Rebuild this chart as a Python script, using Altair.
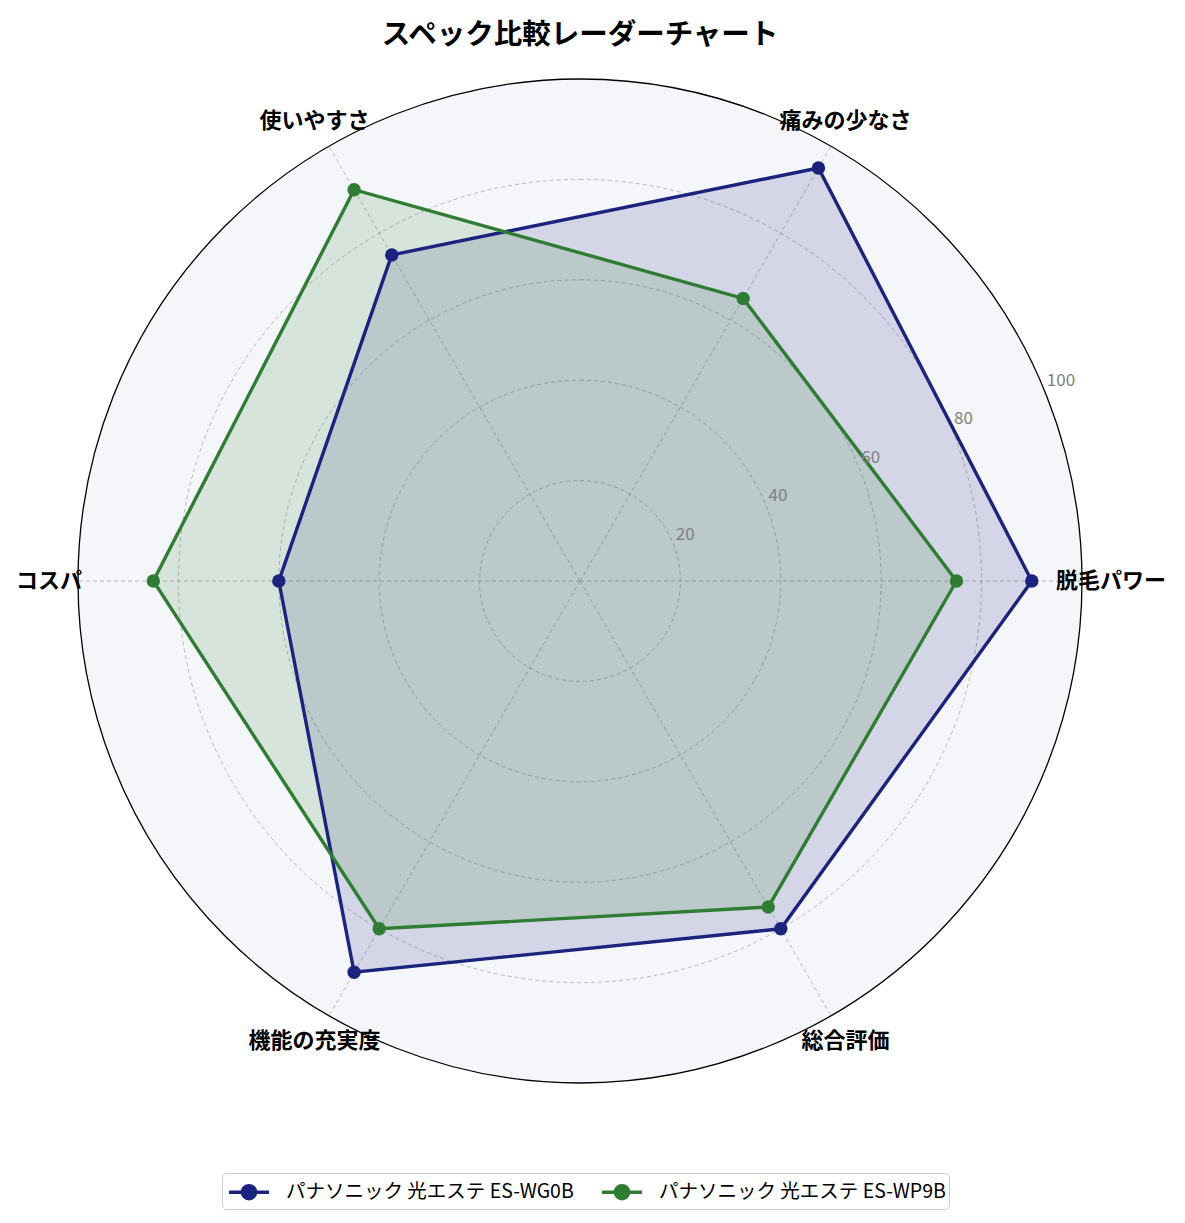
import math
import altair as alt
import pandas as pd

# ---------------- data ----------------
categories = ["脱毛パワー", "痛みの少なさ", "使いやすさ", "コスパ", "機能の充実度", "総合評価"]
series_names = ["パナソニック 光エステ ES-WG0B", "パナソニック 光エステ ES-WP9B"]
values_wg0b = [90, 95, 75, 60, 90, 80]
values_wp9b = [75, 65, 90, 85, 80, 75]
r_ticks = [20, 40, 60, 80, 100]
grid_levels = [20, 40, 60, 80]
colors = ["#1a237e", "#2e7d32"]
title_text = "スペック比較レーダーチャート"

N = len(categories)
R = 502  # pixel radius of value 100
FONT = "Noto Sans CJK JP"

rows = []
for s, vals in zip(series_names, [values_wg0b, values_wp9b]):
    for i, (c, v) in enumerate(zip(categories, vals)):
        rows.append({"series": s, "category": c, "idx": i, "value": v})
df = pd.DataFrame(rows)
cat_df = pd.DataFrame({"category": categories, "idx": list(range(N))})
tick_df = pd.DataFrame({"r": r_ticks})
grid_df = pd.DataFrame({"r": grid_levels})
outer_df = pd.DataFrame({"r": [100]})

xs = alt.Scale(domain=[-100, 100], nice=False, zero=False)
ys = alt.Scale(domain=[-100, 100], nice=False, zero=False)
rs = alt.Scale(type="linear", domain=[0, 100], range=[0, R], zero=True, nice=False)
ANG = f"datum.idx * 2 * PI / {N}"

legend = alt.Legend(
    orient="none", legendX=144, legendY=1094, direction="horizontal", title=None,
    labelFont=FONT, labelFontSize=19.5, labelColor="#000000", labelLimit=500,
    symbolType="M-1.43,0L1.43,0M0.47,0A0.47,0.47,0,1,1,-0.47,0A0.47,0.47,0,1,1,0.47,0Z",
    symbolSize=784, symbolStrokeWidth=3.5, symbolOffset=8, labelOffset=21, columnPadding=20,
    strokeColor="#cccccc", fillColor="#ffffff", padding=3, cornerRadius=4,
)
stroke_enc = alt.Stroke("series:N", scale=alt.Scale(domain=series_names, range=colors), legend=legend)
fill_enc = alt.Fill("series:N", scale=alt.Scale(domain=series_names, range=colors), legend=legend)

# background disk and outer circle
bg = alt.Chart(outer_df).mark_arc(theta=0, theta2=2 * math.pi, fill="#f5f6fa",
                                  stroke="#000000", strokeWidth=1.3).encode(
    radius=alt.Radius("r:Q", scale=rs, stack=None))

grid = alt.Chart(grid_df).mark_arc(theta=0, theta2=2 * math.pi, filled=False, fillOpacity=0,
                                   stroke="#a8a8a8", strokeWidth=0.8, strokeDash=[4, 3]).encode(
    radius=alt.Radius("r:Q", scale=rs, stack=None))

spokes = alt.Chart(cat_df).transform_calculate(
    ang=ANG, x0="0", y0="0",
    x1="100 * cos(datum.ang)", y1="100 * sin(datum.ang)",
).mark_rule(stroke="#a8a8a8", strokeWidth=0.8, strokeDash=[4, 3]).encode(
    x=alt.X("x0:Q", scale=xs, axis=None), y=alt.Y("y0:Q", scale=ys, axis=None),
    x2="x1:Q", y2="y1:Q")

base = alt.Chart(df).transform_calculate(
    ang=ANG,
    px="datum.value * cos(datum.ang)",
    py="datum.value * sin(datum.ang)",
)

fills = []
for s, c in zip(series_names, colors):
    fills.append(base.transform_filter(alt.datum.series == s).mark_line(
        interpolate="linear-closed", fill=c, fillOpacity=0.15, strokeOpacity=0).encode(
        x=alt.X("px:Q", scale=xs, axis=None), y=alt.Y("py:Q", scale=ys, axis=None),
        order=alt.Order("idx:Q")))

lines = base.mark_line(interpolate="linear-closed", strokeWidth=3.4).encode(
    x=alt.X("px:Q", scale=xs, axis=None), y=alt.Y("py:Q", scale=ys, axis=None),
    stroke=stroke_enc, order=alt.Order("idx:Q"), detail="series:N")

points = base.mark_circle(size=180, opacity=1).encode(
    x=alt.X("px:Q", scale=xs, axis=None), y=alt.Y("py:Q", scale=ys, axis=None),
    fill=fill_enc)

cat_labels = alt.Chart(cat_df).transform_calculate(
    ang=ANG, lx="105.8 * cos(datum.ang)", ly="105.8 * sin(datum.ang)",
).mark_text(font=FONT, fontSize=22, fontWeight="bold", color="#000000",
            align="center", baseline="middle").encode(
    x=alt.X("lx:Q", scale=xs, axis=None), y=alt.Y("ly:Q", scale=ys, axis=None),
    text="category:N")

r_labels = alt.Chart(tick_df).transform_calculate(
    tx="datum.r * cos(PI / 8)", ty="datum.r * sin(PI / 8)",
).mark_text(font=FONT, fontSize=17, color="#808080", align="left",
            baseline="alphabetic", dx=3, dy=-3).encode(
    x=alt.X("tx:Q", scale=xs, axis=None), y=alt.Y("ty:Q", scale=ys, axis=None),
    text="r:Q")

chart = alt.layer(bg, grid, spokes, *fills, lines, points, cat_labels, r_labels).properties(
    width=2 * R, height=2 * R,
    title=alt.Title(title_text, font=FONT, fontSize=28.5, fontWeight="bold",
                    color="#000000", anchor="middle", offset=27),
    autosize=alt.AutoSizeParams(type="none"),
    padding={"left": 70, "top": 71, "right": 95, "bottom": 128},
    background="#ffffff",
).configure_view(stroke="transparent", strokeWidth=0)

chart.save("out.html", embed_options={"renderer": "svg", "actions": False})
